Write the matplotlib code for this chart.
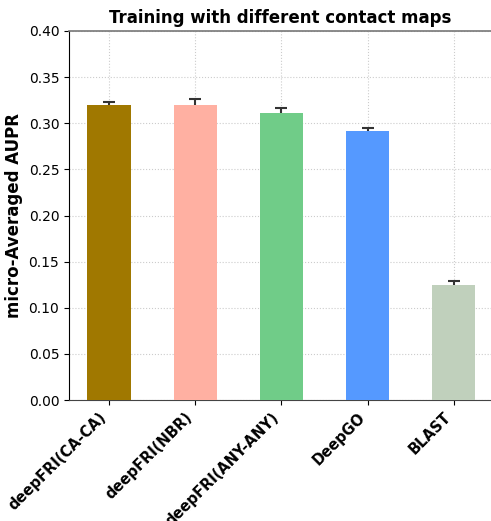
import matplotlib
matplotlib.use("Agg")
import matplotlib.pyplot as plt
import numpy as np

# micro-averaged AUPR per method
methods = ['deepFRI(CA-CA)', 'deepFRI(NBR)', 'deepFRI(ANY-ANY)', 'DeepGO', 'BLAST']
aupr = [0.320, 0.320, 0.311, 0.292, 0.125]
aupr_err = [0.0035, 0.006, 0.006, 0.003, 0.004]
colors = ['#a07800', '#ffb0a2', '#70cc88', '#5599ff', '#c0d0bc']

fig = plt.figure(figsize=(4.91, 5.21), dpi=100)
ax = fig.add_axes([0.1405, 0.2322, 0.8595, 0.7083])

x = np.arange(len(methods))
# error bars sit behind the bars so only the upper half shows
ax.errorbar(x, aupr, yerr=aupr_err, fmt='none', ecolor='#333333',
            capsize=4, elinewidth=1.5, capthick=1.5, zorder=2)
ax.bar(x, aupr, width=0.5, color=colors, zorder=3)

ax.set_xlim(-0.464, 4.43)
ax.set_ylim(0, 0.4)
ax.set_yticks(np.arange(0, 0.41, 0.05))
ax.set_yticklabels(['%.2f' % v for v in np.arange(0, 0.41, 0.05)], fontsize=10)
ax.set_xticks(x)
ax.set_xticklabels(methods, rotation=45, ha='right',
                   fontsize=10.5, fontweight='bold')
ax.set_ylabel('micro-Averaged AUPR', fontsize=12, fontweight='bold')
ax.set_title('Training with different contact maps', fontsize=12, fontweight='bold')

ax.grid(True, linestyle=':', color='#cccccc', linewidth=0.8, zorder=0)
ax.spines['right'].set_visible(False)
ax.spines['top'].set_color('#777777')
ax.spines['top'].set_linewidth(1.2)
ax.spines['bottom'].set_color('#444444')
ax.spines['left'].set_color('black')

fig.savefig('out.png', dpi=100)
